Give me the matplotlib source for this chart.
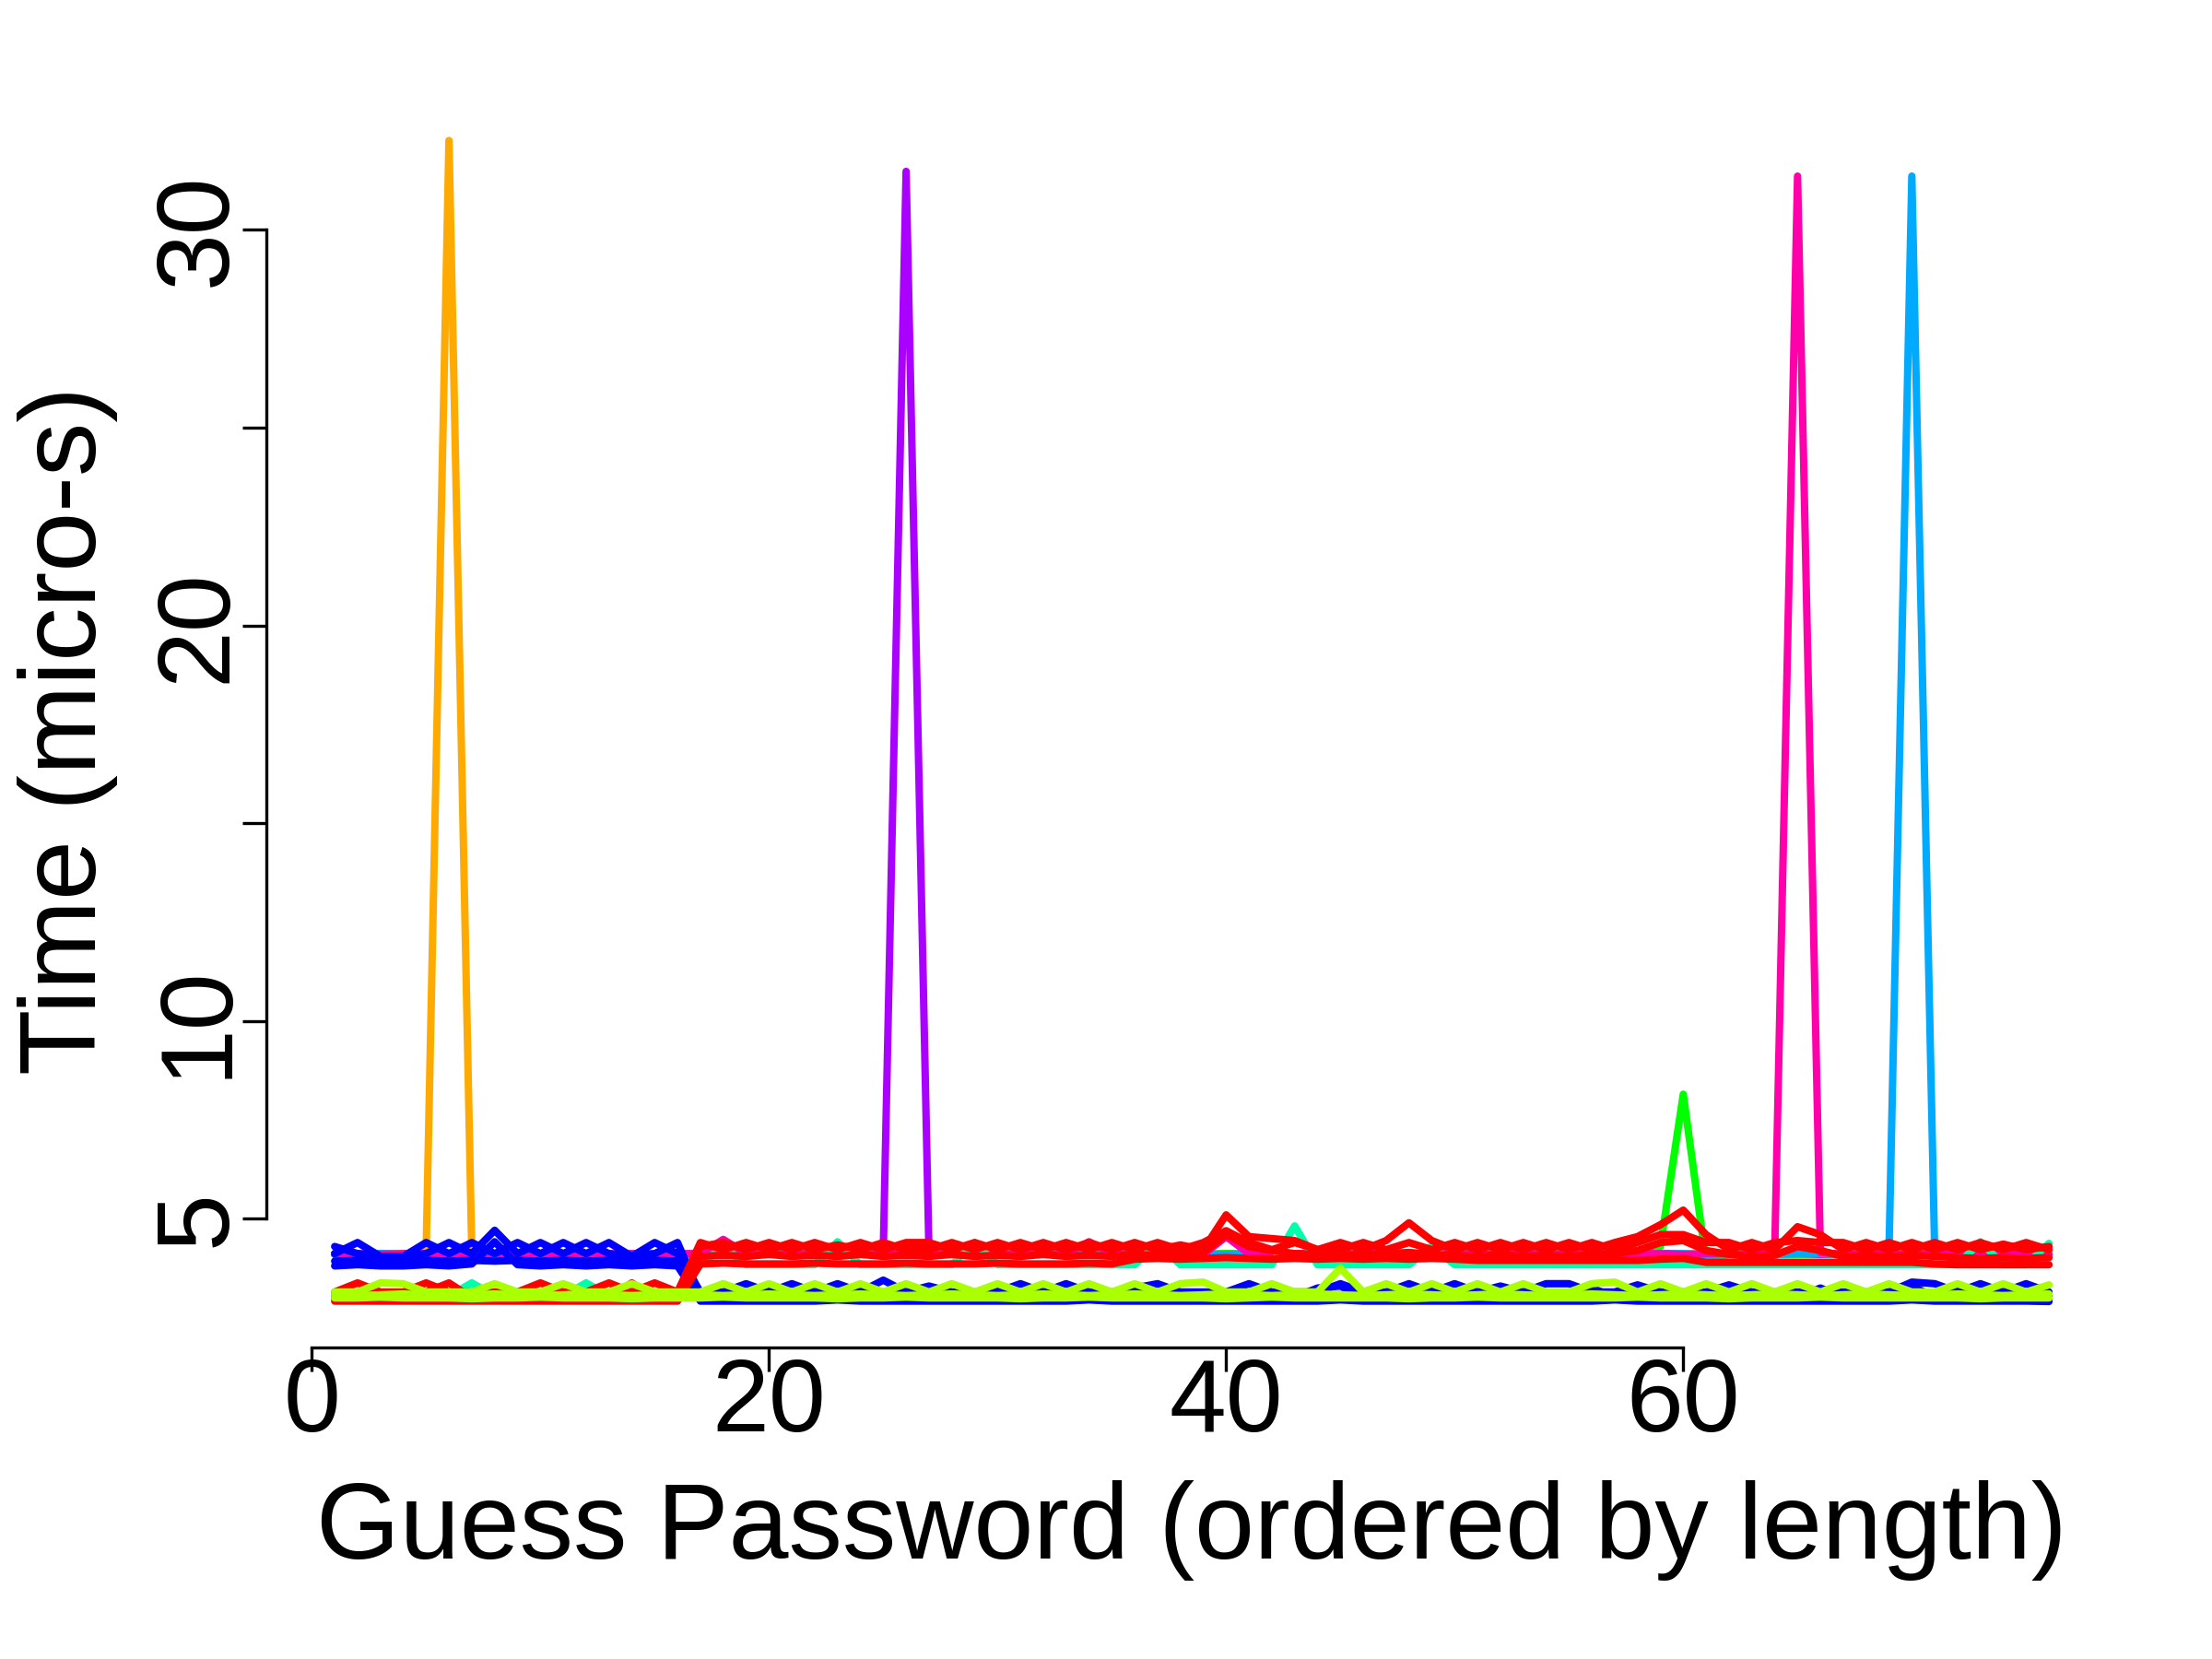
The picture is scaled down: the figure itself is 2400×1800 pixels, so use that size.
import numpy as np
import matplotlib
matplotlib.use('Agg')
import matplotlib.pyplot as plt

plt.rcParams['font.family'] = ['Liberation Sans', 'DejaVu Sans']

# guess index 1..76
guess = np.arange(1, 77)

# timings (micro-s), one list per drawn line
blue_a = [4.12, 4.40, 4.05, 4.05, 4.40, 4.12, 4.40, 4.12, 4.40, 4.12,
          4.40, 4.12, 4.40, 4.05, 4.40, 4.12, 3.15, 3.15, 3.36, 3.15,
          3.36, 3.15, 3.36, 3.15, 3.45, 3.15, 3.30, 3.15, 3.15, 3.15,
          3.36, 3.15, 3.36, 3.15, 3.15, 3.25, 3.36, 3.15, 3.15, 3.15,
          3.36, 3.15, 3.15, 3.15, 3.36, 3.15, 3.15, 3.36, 3.15, 3.36,
          3.15, 3.30, 3.15, 3.36, 3.36, 3.15, 3.15, 3.33, 3.15, 3.15,
          3.15, 3.33, 3.15, 3.15, 3.15, 3.15, 3.15, 3.15, 3.15, 3.40,
          3.36, 3.15, 3.36, 3.15, 3.36, 3.15]
blue_b = [4.30, 4.12, 4.05, 4.05, 4.12, 4.40, 4.12, 4.71, 4.12, 4.40,
          4.12, 4.40, 4.12, 4.05, 4.12, 4.40, 3.05, 3.02, 3.02, 3.25,
          3.02, 3.02, 3.02, 3.02, 3.02, 3.02, 3.02, 3.02, 3.02, 3.25,
          3.02, 3.02, 3.02, 3.02, 3.02, 3.25, 3.02, 3.02, 3.02, 3.02,
          3.02, 3.02, 3.02, 3.25, 3.30, 3.02, 3.02, 3.02, 3.25, 3.02,
          3.02, 3.02, 3.02, 3.02, 3.02, 3.25, 3.02, 3.02, 3.02, 3.02,
          3.02, 3.02, 3.02, 3.02, 3.02, 3.25, 3.02, 3.02, 3.02, 3.30,
          3.02, 3.25, 3.02, 3.02, 3.02, 3.02]
blue_c = [3.81, 3.84, 3.81, 3.81, 3.84, 3.81, 3.86, 4.42, 3.84, 3.81,
          3.84, 3.81, 3.84, 3.81, 3.84, 3.81, 2.92, 2.92, 2.92, 2.92,
          2.92, 2.92, 2.95, 2.92, 2.92, 2.92, 2.92, 2.92, 2.92, 2.92,
          2.92, 2.92, 2.92, 2.95, 2.92, 2.92, 2.92, 2.92, 2.92, 2.92,
          2.92, 2.92, 2.92, 2.92, 2.95, 2.92, 2.92, 2.92, 2.92, 2.92,
          2.92, 2.92, 2.92, 2.92, 2.92, 2.92, 2.95, 2.92, 2.92, 2.92,
          2.92, 2.92, 2.92, 2.92, 2.92, 2.92, 2.92, 2.92, 2.92, 2.95,
          2.92, 2.92, 2.92, 2.92, 2.92, 2.91]
blue_d = [3.93, 3.95, 3.93, 3.93, 3.95, 3.93, 3.95, 3.93, 3.95, 3.93,
          3.95, 3.93, 3.95, 3.93, 3.95, 3.93, 3.08, 3.08, 3.10, 3.08,
          3.08, 3.10, 3.08, 3.08, 3.10, 3.08, 3.08, 3.10, 3.08, 3.08,
          3.10, 3.08, 3.08, 3.10, 3.08, 3.08, 3.10, 3.08, 3.08, 3.10,
          3.08, 3.08, 3.10, 3.08, 3.08, 3.10, 3.08, 3.08, 3.10, 3.08,
          3.08, 3.10, 3.08, 3.08, 3.10, 3.08, 3.08, 3.10, 3.08, 3.08,
          3.10, 3.08, 3.08, 3.10, 3.08, 3.08, 3.10, 3.08, 3.08, 3.10,
          3.08, 3.08, 3.10, 3.08, 3.08, 3.10]
red_a = [3.15, 3.38, 3.15, 3.15, 3.38, 3.15, 3.15, 3.15, 3.15, 3.38,
         3.15, 3.15, 3.38, 3.15, 3.38, 3.15, 4.40, 4.22, 4.40, 4.22,
         4.40, 4.22, 4.34, 4.22, 4.40, 4.22, 4.22, 4.40, 4.22, 4.40,
         4.22, 4.40, 4.22, 4.40, 4.22, 4.40, 4.22, 4.34, 4.22, 5.10,
         4.55, 4.50, 4.45, 4.22, 4.40, 4.22, 4.45, 4.90, 4.45, 4.22,
         4.40, 4.22, 4.40, 4.22, 4.40, 4.22, 4.40, 4.55, 4.85, 5.22,
         4.60, 4.22, 4.40, 4.22, 4.80, 4.60, 4.22, 4.40, 4.22, 4.40,
         4.22, 4.40, 4.22, 4.36, 4.22, 4.30]
red_b = [3.00, 3.15, 3.00, 3.00, 3.15, 3.38, 3.00, 3.15, 3.00, 3.00,
         3.00, 3.15, 3.00, 3.38, 3.00, 3.00, 4.30, 4.40, 4.22, 4.40,
         4.22, 4.40, 4.22, 4.40, 4.22, 4.40, 4.40, 4.22, 4.40, 4.22,
         4.40, 4.22, 4.40, 4.22, 4.40, 4.22, 4.40, 4.22, 4.40, 4.70,
         4.40, 4.22, 4.40, 4.22, 4.22, 4.40, 4.22, 4.40, 4.22, 4.40,
         4.22, 4.40, 4.22, 4.40, 4.22, 4.40, 4.22, 4.40, 4.60, 4.60,
         4.40, 4.40, 4.22, 4.40, 4.45, 4.40, 4.40, 4.22, 4.40, 4.22,
         4.40, 4.22, 4.40, 4.22, 4.40, 4.22]
red_c = [2.92, 2.92, 2.92, 2.92, 2.92, 2.92, 2.92, 2.92, 2.92, 2.92,
         2.92, 2.92, 2.92, 2.92, 2.92, 2.92, 3.86, 3.88, 3.86, 3.86,
         3.86, 3.88, 3.86, 3.86, 3.86, 3.88, 3.86, 3.86, 3.86, 3.88,
         3.86, 3.86, 3.86, 3.88, 3.86, 3.98, 4.00, 3.98, 4.00, 4.02,
         4.00, 3.98, 4.00, 3.98, 4.00, 3.98, 4.00, 3.98, 4.00, 3.98,
         3.95, 3.95, 3.95, 3.95, 3.95, 3.95, 3.95, 3.95, 3.98, 4.00,
         3.90, 3.90, 3.90, 3.90, 3.90, 3.90, 3.90, 3.90, 3.90, 3.90,
         3.86, 3.84, 3.84, 3.84, 3.84, 3.84]
red_d = [3.08, 3.08, 3.10, 3.08, 3.08, 3.10, 3.08, 3.08, 3.10, 3.08,
         3.08, 3.10, 3.08, 3.08, 3.10, 3.08, 4.05, 4.08, 4.05, 4.10,
         4.05, 4.08, 4.05, 4.10, 4.05, 4.08, 4.05, 4.10, 4.05, 4.08,
         4.05, 4.10, 4.05, 4.08, 4.05, 4.10, 4.08, 4.12, 4.15, 4.60,
         4.30, 4.20, 4.12, 4.10, 4.08, 4.10, 4.12, 4.15, 4.10, 4.08,
         4.05, 4.10, 4.05, 4.08, 4.05, 4.10, 4.12, 4.20, 4.40, 4.45,
         4.20, 4.10, 4.05, 4.08, 4.30, 4.20, 4.05, 4.08, 4.05, 4.08,
         4.05, 4.02, 4.00, 4.02, 4.00, 4.02]
seafoam = [3.05, 3.15, 3.05, 3.05, 3.15, 3.05, 3.38, 3.05, 3.05, 3.15,
           3.05, 3.38, 3.05, 3.05, 3.15, 3.05, 3.84, 4.30, 3.84, 3.84,
           3.84, 3.84, 4.42, 3.84, 3.84, 3.84, 3.84, 3.84, 4.40, 3.84,
           3.84, 3.84, 3.84, 3.84, 3.84, 3.84, 4.38, 3.84, 3.84, 3.84,
           3.84, 3.84, 4.82, 3.84, 3.84, 3.84, 3.84, 3.84, 4.30, 3.84,
           3.84, 3.84, 3.84, 3.84, 3.84, 3.84, 3.84, 3.84, 3.84, 3.84,
           3.84, 3.84, 3.84, 3.84, 3.84, 3.84, 3.84, 3.84, 3.84, 3.84,
           3.84, 3.84, 4.42, 3.84, 3.84, 4.38]
yg_a = [3.15, 3.15, 3.38, 3.36, 3.15, 3.15, 3.15, 3.36, 3.15, 3.15,
        3.36, 3.15, 3.15, 3.36, 3.15, 3.15, 3.15, 3.36, 3.15, 3.36,
        3.15, 3.36, 3.15, 3.36, 3.15, 3.36, 3.15, 3.36, 3.15, 3.36,
        3.15, 3.36, 3.15, 3.36, 3.15, 3.36, 3.15, 3.36, 3.40, 3.15,
        3.15, 3.36, 3.15, 3.15, 3.75, 3.15, 3.36, 3.15, 3.36, 3.15,
        3.36, 3.15, 3.36, 3.15, 3.15, 3.36, 3.40, 3.15, 3.36, 3.15,
        3.36, 3.15, 3.36, 3.15, 3.36, 3.15, 3.36, 3.15, 3.36, 3.15,
        3.15, 3.36, 3.15, 3.36, 3.15, 3.33]
yg_b = [3.00, 3.00, 3.02, 3.00, 3.00, 3.00, 2.98, 3.00, 3.00, 3.02,
        3.00, 3.00, 3.00, 2.98, 3.00, 3.00, 3.00, 3.02, 3.00, 3.00,
        3.00, 3.00, 2.98, 3.00, 3.00, 3.02, 3.00, 3.00, 3.00, 3.00,
        2.98, 3.00, 3.00, 3.02, 3.00, 3.00, 3.00, 3.00, 3.00, 2.98,
        3.00, 3.02, 3.00, 3.00, 3.00, 3.00, 3.00, 2.98, 3.00, 3.00,
        3.02, 3.00, 3.00, 3.00, 3.00, 3.00, 3.00, 3.02, 3.00, 3.00,
        3.00, 2.98, 3.00, 3.00, 3.00, 3.02, 3.00, 3.00, 3.00, 3.00,
        3.00, 3.00, 2.98, 3.00, 3.00, 3.00]
yg_c = [3.08, 3.06, 3.08, 3.10, 3.08, 3.06, 3.08, 3.10, 3.08, 3.06,
        3.08, 3.10, 3.08, 3.06, 3.08, 3.10, 3.08, 3.06, 3.08, 3.10,
        3.08, 3.06, 3.08, 3.10, 3.08, 3.06, 3.08, 3.10, 3.08, 3.06,
        3.08, 3.10, 3.08, 3.06, 3.08, 3.10, 3.08, 3.06, 3.08, 3.10,
        3.08, 3.06, 3.08, 3.10, 3.08, 3.06, 3.08, 3.10, 3.08, 3.06,
        3.08, 3.10, 3.08, 3.06, 3.08, 3.10, 3.08, 3.06, 3.08, 3.10,
        3.08, 3.06, 3.08, 3.10, 3.08, 3.06, 3.08, 3.10, 3.08, 3.06,
        3.08, 3.10, 3.08, 3.06, 3.08, 3.10]
orange = [4.10, 4.12, 4.10, 4.10, 4.15, 32.26, 4.12, 4.10, 4.10, 4.12,
          4.10, 4.10, 4.12, 4.10, 4.10, 4.10, 4.12, 4.10, 4.10, 4.12,
          4.10, 4.10, 4.12, 4.10, 4.10, 4.10, 4.12, 4.10, 4.10, 4.12,
          4.10, 4.10, 4.12, 4.10, 4.10, 4.10, 4.12, 4.10, 4.10, 4.12,
          4.10, 4.10, 4.12, 4.10, 4.10, 4.10, 4.12, 4.10, 4.10, 4.12,
          4.10, 4.10, 4.12, 4.10, 4.10, 4.10, 4.12, 4.10, 4.10, 4.12,
          4.10, 4.10, 4.12, 4.10, 4.10, 4.10, 4.12, 4.10, 4.10, 4.12,
          4.10, 4.10, 4.12, 4.10, 4.10, 4.10]
purple = [4.10, 4.10, 4.12, 4.10, 4.10, 4.12, 4.10, 4.10, 4.12, 4.10,
          4.10, 4.12, 4.10, 4.10, 4.12, 4.10, 4.10, 4.12, 4.10, 4.10,
          4.12, 4.10, 4.10, 4.12, 4.15, 31.48, 4.15, 4.10, 4.12, 4.10,
          4.10, 4.12, 4.10, 4.10, 4.12, 4.10, 4.10, 4.12, 4.10, 4.10,
          4.12, 4.10, 4.10, 4.12, 4.10, 4.10, 4.12, 4.10, 4.10, 4.12,
          4.10, 4.10, 4.12, 4.10, 4.10, 4.12, 4.10, 4.10, 4.12, 4.10,
          4.10, 4.12, 4.10, 4.10, 4.12, 4.10, 4.10, 4.12, 4.10, 4.10,
          4.12, 4.10, 4.10, 4.12, 4.10, 4.10]
green = [4.12, 4.10, 4.10, 4.12, 4.10, 4.10, 4.12, 4.10, 4.10, 4.12,
         4.10, 4.10, 4.12, 4.10, 4.10, 4.12, 4.10, 4.10, 4.12, 4.10,
         4.10, 4.12, 4.10, 4.10, 4.12, 4.10, 4.10, 4.12, 4.10, 4.10,
         4.12, 4.10, 4.10, 4.12, 4.10, 4.10, 4.12, 4.10, 4.10, 4.12,
         4.10, 4.10, 4.12, 4.10, 4.10, 4.12, 4.10, 4.10, 4.12, 4.10,
         4.10, 4.12, 4.10, 4.10, 4.12, 4.10, 4.10, 4.12, 4.30, 8.15,
         3.90, 4.10, 4.12, 4.10, 4.10, 4.12, 4.10, 4.10, 4.12, 4.10,
         4.10, 4.12, 4.10, 4.10, 4.12, 4.10]
pink = [4.12, 4.12, 4.10, 4.12, 4.12, 4.10, 4.12, 4.12, 4.10, 4.12,
        4.12, 4.10, 4.12, 4.12, 4.10, 4.12, 4.12, 4.48, 4.12, 4.12,
        4.10, 4.12, 4.12, 4.10, 4.12, 4.12, 4.10, 4.12, 4.12, 4.10,
        4.12, 4.12, 4.10, 4.42, 4.12, 4.10, 4.12, 4.12, 4.10, 4.55,
        4.12, 4.10, 4.12, 4.12, 4.10, 4.12, 4.12, 4.10, 4.12, 4.12,
        4.10, 4.12, 4.12, 4.10, 4.12, 4.12, 4.10, 4.12, 4.12, 4.10,
        4.12, 4.12, 4.10, 4.15, 31.36, 4.15, 4.10, 4.12, 4.12, 4.10,
        4.12, 4.12, 4.10, 4.12, 4.12, 4.10]
azure = [4.10, 4.12, 4.12, 4.10, 4.12, 4.12, 4.10, 4.12, 4.12, 4.10,
         4.12, 4.12, 4.10, 4.12, 4.12, 4.10, 4.12, 4.12, 4.10, 4.12,
         4.12, 4.10, 4.12, 4.12, 4.10, 4.12, 4.12, 4.10, 4.12, 4.12,
         4.10, 4.12, 4.12, 4.10, 4.12, 4.12, 4.10, 4.12, 4.12, 4.10,
         4.12, 4.12, 4.10, 4.12, 4.12, 4.10, 4.12, 4.12, 4.10, 4.12,
         4.12, 4.10, 4.12, 4.12, 4.10, 4.12, 4.12, 4.10, 4.12, 4.12,
         4.10, 4.12, 4.12, 4.10, 4.12, 4.12, 4.10, 4.12, 4.15, 31.36,
         4.15, 4.12, 4.10, 4.12, 4.12, 4.10]

# R rainbow(9)
c_red, c_orange, c_yg, c_green = '#FF0000', '#FFAA00', '#AAFF00', '#00FF00'
c_sea, c_azure, c_blue, c_purple, c_pink = '#00FFAA', '#00AAFF', '#0000FF', '#AA00FF', '#FF00AA'

# drawing order, first is at the bottom
lines = [(orange, c_orange), (purple, c_purple), (green, c_green),
         (azure, c_azure), (pink, c_pink), (seafoam, c_sea),
         (blue_c, c_blue), (blue_d, c_blue), (blue_b, c_blue), (blue_a, c_blue),
         (red_c, c_red), (red_d, c_red), (red_b, c_red), (red_a, c_red),
         (yg_b, c_yg), (yg_c, c_yg), (yg_a, c_yg)]

fig = plt.figure(figsize=(12, 9), dpi=200)
ax = fig.add_axes([0.1203, 0.1876, 0.8370, 0.7556])

for vals, col in lines:
    ax.plot(guess, vals, color=col, lw=2.9,
            solid_capstyle='round', solid_joinstyle='round')

ax.set_xlim(-2, 79)
ax.set_ylim(1.74, 33.43)

for s in ['top', 'right']:
    ax.spines[s].set_visible(False)
ax.spines['left'].set_bounds(5, 30)
ax.spines['bottom'].set_bounds(0, 60)
ax.spines['left'].set_linewidth(1.2)
ax.spines['bottom'].set_linewidth(1.2)

ax.set_xticks([0, 20, 40, 60])
ax.set_yticks([5, 10, 15, 20, 25, 30], ['5', '10', '', '20', '', '30'],
              rotation=90, va='center')
ax.tick_params(axis='both', length=9.4, width=1.2, labelsize=40)
ax.tick_params(axis='x', pad=-5.8)
ax.tick_params(axis='y', pad=-1.8)

fig.text(1293 / 2400, 1 - 1691 / 1800, 'Guess Password (ordered by length)',
         ha='center', va='baseline', fontsize=42)
fig.text(104 / 2400, 1 - 792 / 1800, 'Time (micro-s)', rotation=90,
         rotation_mode='anchor', ha='center', va='baseline', fontsize=42)

fig.savefig('out.png', dpi=200)
